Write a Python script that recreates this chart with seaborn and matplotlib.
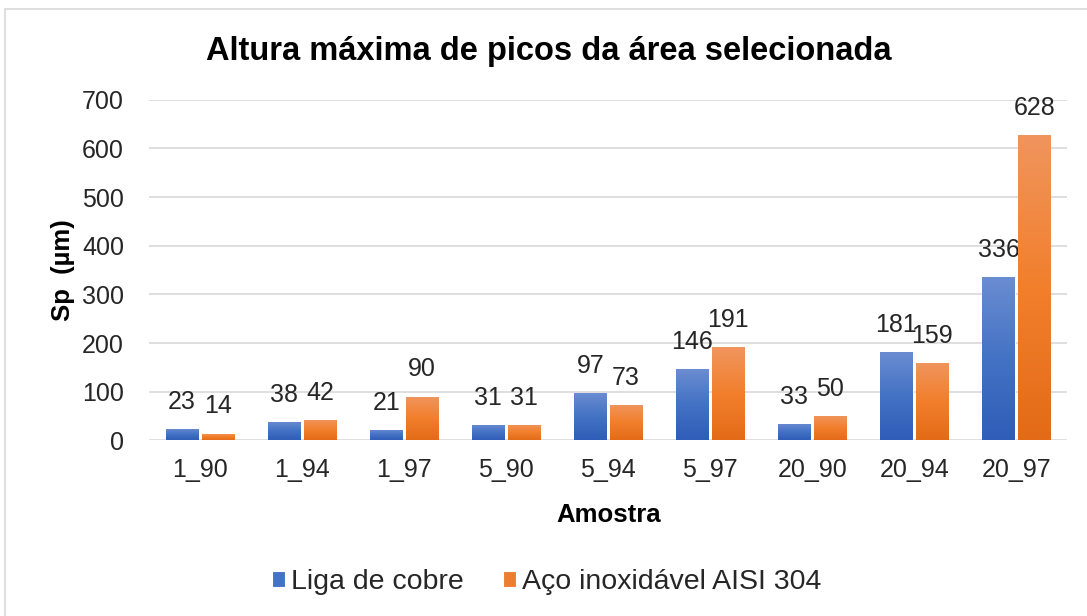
import numpy as np
import pandas as pd
import matplotlib
matplotlib.use("Agg")
import matplotlib.pyplot as plt
from matplotlib.colors import LinearSegmentedColormap
from matplotlib.patches import Rectangle
import seaborn as sns

amostras = ["1_90", "1_94", "1_97", "5_90", "5_94", "5_97", "20_90", "20_94", "20_97"]
liga_cobre = [23, 38, 21, 31, 97, 146, 33, 181, 336]
aco_inox = [14, 42, 90, 31, 73, 191, 50, 159, 628]
series = ["Liga de cobre", "Aço inoxidável AISI 304"]

df = pd.DataFrame({
    "Amostra": amostras * 2,
    "Sp": liga_cobre + aco_inox,
    "Material": [series[0]] * len(amostras) + [series[1]] * len(amostras),
})

sns.set_theme(style="white")
plt.rcParams["font.family"] = ["Liberation Sans", "DejaVu Sans"]

base_colors = {series[0]: "#4472C4", series[1]: "#ED7D31"}
gradients = {
    series[0]: LinearSegmentedColormap.from_list("azul", ["#2F5DB8", "#4472C4", "#6B8DD2"]),
    series[1]: LinearSegmentedColormap.from_list("laranja", ["#E36B17", "#F27F2C", "#F0955E"]),
}

fig = plt.figure(figsize=(10.87, 6.16), dpi=100)
fig.patch.set_facecolor("white")
fig.patches.append(Rectangle((0.005, -0.02), 1.2, 1.005, transform=fig.transFigure,
                             fill=False, edgecolor="#D9D9D9", linewidth=1.2, zorder=0))
ax = fig.add_axes([0.137, 0.285, 0.845, 0.553])

sns.barplot(data=df, x="Amostra", y="Sp", hue="Material", palette=base_colors,
            width=0.7, gap=0.1, ax=ax, legend=True, saturation=1,
            edgecolor="white", linewidth=0.8, zorder=3)

ax.set_ylim(0, 700)
ax.set_yticks(range(0, 701, 100))
ax.yaxis.grid(True, color="#D9D9D9", linewidth=1.2, zorder=0)
ax.set_axisbelow(True)
for s in ax.spines.values():
    s.set_visible(False)

# vertical gradient fill clipped to each bar
grad = np.linspace(0, 1, 256).reshape(-1, 1)
for cont, name in zip(ax.containers, series):
    for bar in cont:
        x0 = bar.get_x()
        w, h = bar.get_width(), bar.get_height()
        img = ax.imshow(grad, cmap=gradients[name], origin="lower", aspect="auto",
                        extent=(x0, x0 + w, 0, max(h, 1e-6)), zorder=3.5,
                        interpolation="bicubic")
        img.set_clip_path(bar)
    ax.bar_label(cont, labels=[str(int(v)) for v in cont.datavalues], padding=11,
                 fontsize=18, color="#262626")
ax.set_xlim(-0.5, len(amostras) - 0.5)

ax.tick_params(axis="x", length=0, labelsize=18, labelcolor="#262626", pad=13)
ax.tick_params(axis="y", length=0, labelsize=18, labelcolor="#262626", pad=18)
ax.set_xlabel("Amostra", fontsize=18.5, fontweight="bold", color="black", labelpad=15)
ax.set_ylabel("Sp  (µm)", fontsize=18.5, fontweight="bold", color="black", labelpad=5)
fig.suptitle("Altura máxima de picos da área selecionada", x=0.505, y=0.942,
             fontsize=23.5, fontweight="bold", color="black")

handles, labels = ax.get_legend_handles_labels()
ax.legend_.remove()
fig.legend(handles, labels, loc="center", bbox_to_anchor=(0.503, 0.055), ncol=2,
           frameon=False, fontsize=20.5, handlelength=0.45, handleheight=0.45,
           handletextpad=0.2, columnspacing=1.4)

fig.savefig("out.png", dpi=100, facecolor="white")
